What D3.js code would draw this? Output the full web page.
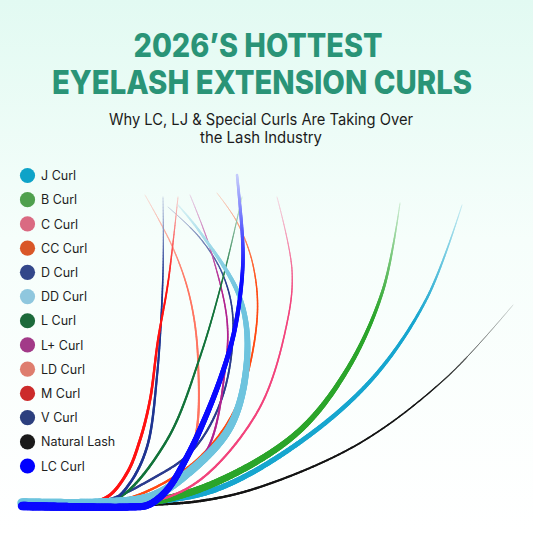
<!DOCTYPE html>
<html><head><meta charset="utf-8">
<script src="https://cdn.jsdelivr.net/npm/d3@7"></script>
<style>html,body{margin:0;padding:0;background:#fff}svg{display:block}</style>
</head><body><svg id="c" width="533" height="533"></svg>
<script>
// ---- data ----
const titleLines = ["2026’S HOTTEST", "EYELASH EXTENSION CURLS"];
const subtitleLines = ["Why LC, LJ & Special Curls Are Taking Over", "the Lash Industry"];
const curlNames = ["J Curl","B Curl","C Curl","CC Curl","D Curl","DD Curl","L Curl","L+ Curl","LD Curl","M Curl","V Curl","Natural Lash","LC Curl"];
const legendColors = ["#0ea3c8","#4fa04e","#da6a82","#d95728","#33478a","#8fc7de","#1c6a3a","#a23a88","#de7d6e","#cc2b2b","#2c3f7e","#1a1a1a","#0000ff"];

// lash profiles: [horizontal distance from base, height above base]
const lashNatural = [[0,0],[60,0],[118,1],[178,5],[238,19],[338,63],[425,129],[491,201]];
const lashJ  = [[8,2],[70,2],[128,4],[195,17],[278,64],[351,128],[405,208],[440,301]];
const lashB  = [[8,3],[70,3],[128,4],[195,24],[275,73],[325,136],[361,216],[378,303]];
const lashC  = [[8,2],[70,3],[128,4],[178,26],[237,97],[265,183],[270,236],[255,309]];
const lashCC = [[0,2],[88,4],[128,16],[178,49],[215,101],[235,186],[231,241],[215,284],[195,313]];
const lashD  = [[0,1],[78,4],[128,26],[171,56],[201,111],[211,186],[201,231],[178,268],[146,299]];
const lashLplus = [[0,2],[98,3],[145,16],[185,56],[203,136],[205,186],[188,258],[168,311]];
const lashLD = [[0,2],[98,4],[138,13],[171,61],[176,146],[168,208],[151,258],[123,311]];
const lashL  = [[0,1],[68,3],[98,9],[145,66],[178,149],[203,236],[220,309]];
const lashV  = [[0,1],[68,3],[91,6],[108,23],[125,59],[135,130],[141,233],[141,309]];
const lashM  = [[0,1],[58,3],[85,9],[105,33],[118,66],[128,106],[136,166],[146,223],[156,309]];
const lashDD = [[0,3],[78,3],[128,9],[161,29],[208,79],[225,146],[218,208],[178,274],[156,301]];
const lashLC = [[0,0],[58,-1],[106,-1],[126,1],[145,16],[165,49],[181,83],[198,126],[211,169],[218,209],[221,246],[220,276],[215,331]];

// ---- styles ----
const lashes = [
  {pts: lashNatural, color:"#141414", w0:2.8, w1:0.6, p:1.5},
  {pts: lashJ,  color:"#17a6cf", w0:6,   w1:0.8, p:2},
  {pts: lashB,  color:"#2ba52b", w0:7.5, w1:0.8, p:2},
  {pts: lashC,  color:"#f2447c", w0:2.4, w1:0.8, p:2},
  {pts: lashCC, color:"#ff4a12", w0:2.4, w1:0.8, p:2},
  {pts: lashD,  color:"#2b3c8e", w0:2.4, w1:0.8, p:2},
  {pts: lashLplus, color:"#b1238f", w0:2.4, w1:0.8, p:2},
  {pts: lashLD, color:"#ff7460", w0:2.6, w1:0.8, p:2},
  {pts: lashL,  color:"#12733a", w0:2.6, w1:0.8, p:2},
  {pts: lashV,  color:"#1f3592", w0:2.8, w1:0.8, p:2},
  {pts: lashM,  color:"#ff1212", w0:3.2, w1:0.8, p:2},
  {pts: lashDD, color:"#6ec4de", w0:9.5, w1:1.2, p:2},
  {pts: lashLC, color:"#0a0aff", w0:8.5, w1:2.5, p:1}
];

const W = 533, H = 533;
const svg = d3.select("#c");
const defs = svg.append("defs");
const bg = defs.append("linearGradient").attr("id","bg").attr("x1",0).attr("y1",0).attr("x2",0).attr("y2",1);
bg.append("stop").attr("offset","0%").attr("stop-color","#e2faf2");
bg.append("stop").attr("offset","45%").attr("stop-color","#f6fefb");
bg.append("stop").attr("offset","100%").attr("stop-color","#ffffff");
svg.append("rect").attr("width",W).attr("height",H).attr("fill","url(#bg)");

// titles
const font = "Inter, 'Open Sans', sans-serif";
svg.append("text").attr("x",258).attr("y",57).attr("text-anchor","middle")
  .attr("font-family",font).attr("font-weight",800).attr("font-size",32)
  .attr("fill","#2a9477").attr("textLength",249).attr("lengthAdjust","spacingAndGlyphs").text(titleLines[0]);
svg.append("text").attr("x",262).attr("y",94).attr("text-anchor","middle")
  .attr("font-family",font).attr("font-weight",800).attr("font-size",33)
  .attr("fill","#2a9477").attr("textLength",420).attr("lengthAdjust","spacingAndGlyphs").text(titleLines[1]);
svg.append("text").attr("x",261).attr("y",125).attr("text-anchor","middle")
  .attr("font-family",font).attr("font-weight",400).attr("font-size",15.5)
  .attr("fill","#1b1b1b").attr("textLength",304).attr("lengthAdjust","spacingAndGlyphs").text(subtitleLines[0]);
svg.append("text").attr("x",261).attr("y",143).attr("text-anchor","middle")
  .attr("font-family",font).attr("font-weight",400).attr("font-size",15.5)
  .attr("fill","#1b1b1b").attr("textLength",122).attr("lengthAdjust","spacingAndGlyphs").text(subtitleLines[1]);

// legend
const ly = d3.scalePoint().domain(curlNames).range([175.5, 466]);
const leg = svg.append("g");
curlNames.forEach((n,i)=>{
  leg.append("circle").attr("cx",27.5).attr("cy",ly(n)).attr("r",7.6).attr("fill",legendColors[i]);
  leg.append("text").attr("x",41).attr("y",ly(n)+4.6).attr("font-family",font)
    .attr("font-size",12.5).attr("font-weight",400).attr("fill","#1e1e1e").text(n);
});

// lashes
const x = d3.scaleLinear().domain([0,500]).range([22,522]);
const y = d3.scaleLinear().domain([0,340]).range([506,166]);
const line = d3.line().x(d=>x(d[0])).y(d=>y(d[1])).curve(d3.curveCatmullRom.alpha(0.5));
const tmp = svg.append("path").attr("fill","none").attr("stroke","none");
const gL = svg.append("g");
lashes.forEach(L=>{
  tmp.attr("d", line(L.pts));
  const node = tmp.node();
  const len = node.getTotalLength();
  const N = Math.max(60, Math.round(len/1.5));
  const pts = d3.range(N+1).map(i=>node.getPointAtLength(len*i/N));
  const g = gL.append("g");
  for(let i=0;i<N;i++){
    const t = (i+0.5)/N;
    const w = L.w1 + (L.w0-L.w1)*(1-Math.pow(t,L.p));
    const fade = t>0.78 ? Math.pow((t-0.78)/0.22,1.2)*0.8 : 0;
    const col = d3.interpolateRgb(L.color, "#f4fdfa")(fade);
    g.append("line").attr("x1",pts[i].x).attr("y1",pts[i].y).attr("x2",pts[i+1].x).attr("y2",pts[i+1].y)
      .attr("stroke",col).attr("stroke-width",w).attr("stroke-linecap","round");
  }
});
tmp.remove();
</script></body></html>
